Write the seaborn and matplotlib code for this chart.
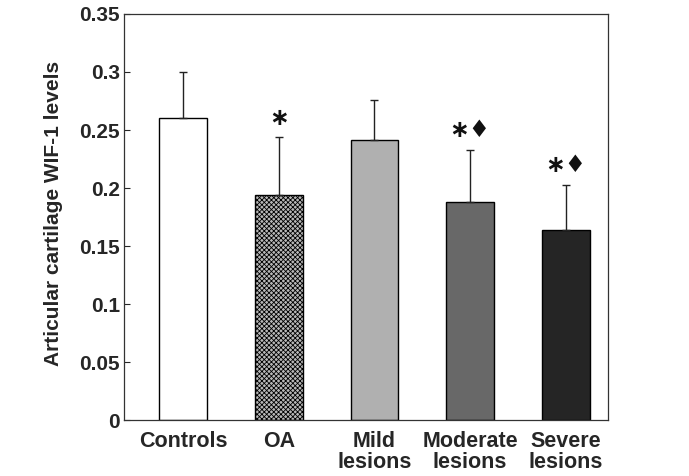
import numpy as np
import pandas as pd
import matplotlib
matplotlib.use("Agg")
import matplotlib.pyplot as plt
import seaborn as sns

# values
groups = ["Controls", "OA", "Mild\nlesions", "Moderate\nlesions", "Severe\nlesions"]
means = [0.260, 0.194, 0.241, 0.188, 0.164]
sd = [0.040, 0.050, 0.035, 0.045, 0.039]
marks = ["", "\u2217", "", "\u2217\u2666", "\u2217\u2666"]
bar_colors = ["#ffffff", "#8a8a8a", "#b0b0b0", "#686868", "#252525"]
yticks = [0, 0.05, 0.1, 0.15, 0.2, 0.25, 0.3, 0.35]
ytick_labels = ["0", "0.05", "0.1", "0.15", "0.2", "0.25", "0.3", "0.35"]

sns.set_style("white")
plt.rcParams["font.family"] = ["Liberation Sans", "DejaVu Sans"]
plt.rcParams["font.weight"] = "bold"
plt.rcParams["hatch.linewidth"] = 0.6

df = pd.DataFrame({"group": groups, "level": means})

fig = plt.figure(figsize=(6.89, 4.76), dpi=100)
ax = fig.add_axes([0.180, 0.1176, 0.702, 0.853])

sns.barplot(
    data=df, x="group", y="level", hue="group", palette=bar_colors,
    legend=False, width=0.5, edgecolor="black", linewidth=1.0, ax=ax,
)

# OA bar has a fine checker pattern
oa = ax.patches[1]
oa.set_hatch("xxxxxxx")
oa.set_facecolor("#b8b8b8")

# upper-only error bars
ax.errorbar(
    np.arange(len(groups)), means, yerr=[np.zeros(len(sd)), sd],
    fmt="none", ecolor="#222222", elinewidth=1.0, capsize=3, capthick=1.0, zorder=1,
)

for i, m in enumerate(marks):
    if m:
        ax.annotate(
            m, xy=(i, means[i] + sd[i]), xytext=(0, 14), textcoords="offset points",
            ha="center", va="center", fontsize=17, fontweight="bold",
            family=["DejaVu Sans"], color="#111111",
        )

ax.set_ylim(0, 0.35)
ax.set_xlim(-0.62, 4.44)
ax.set_yticks(yticks)
ax.set_yticklabels(ytick_labels)
ax.tick_params(axis="y", direction="in", length=4, width=0.8, pad=3, labelsize=15, left=True)
ax.tick_params(axis="x", length=0, pad=8, labelsize=15.5)
for lab in ax.get_xticklabels() + ax.get_yticklabels():
    lab.set_fontweight("bold")
    lab.set_linespacing(1.0)

ax.set_xlabel("")
ax.set_ylabel("Articular cartilage WIF-1 levels", fontsize=15, fontweight="bold")
ax.yaxis.set_label_coords(-0.127, 0.51)

for s in ax.spines.values():
    s.set_visible(True)
    s.set_color("#333333")
    s.set_linewidth(0.9)

plt.savefig("out.png", dpi=100)
